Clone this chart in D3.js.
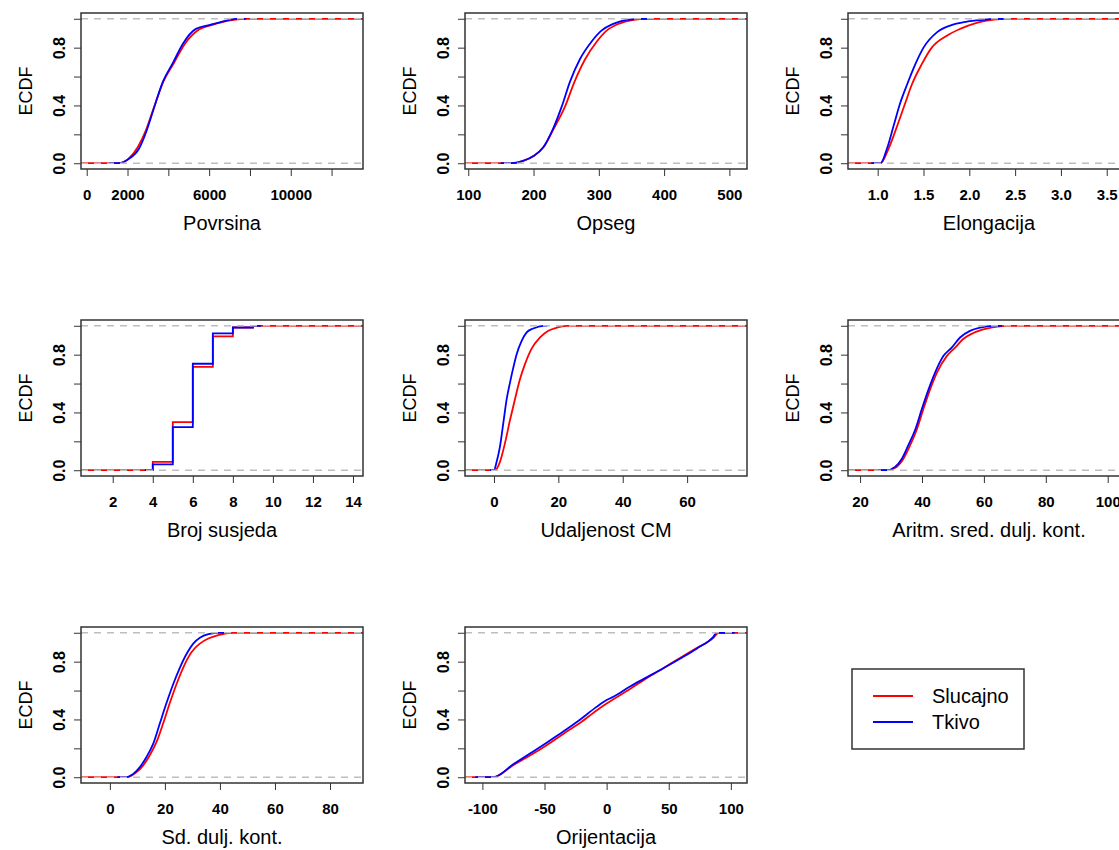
<!DOCTYPE html>
<html>
<head>
<meta charset="utf-8">
<script src="https://cdn.jsdelivr.net/npm/d3@7"></script>
<style>
  body { margin: 0; background: #fff; }
  svg { display: block; font-family: "Liberation Sans", Arial, sans-serif; }
</style>
</head>
<body>
<svg width="1119" height="850"></svg>
<script>
// ECDF readings [x, F] for each variable: Slucajno (red) and Tkivo (blue)
var povrsinaSlucajno = [[1600,0],[2040,0.03],[2500,0.11],[2900,0.227],[3250,0.368],[3760,0.567],[4280,0.696],[4800,0.824],[5500,0.925],[6150,0.958],[6950,0.988],[7800,1]];
var povrsinaTkivo    = [[1550,0],[2040,0.028],[2560,0.10],[2940,0.227],[3265,0.368],[3740,0.567],[4230,0.696],[4700,0.824],[5350,0.93],[6044,0.958],[6860,0.988],[7350,1]];

var opsegSlucajno = [[168,0],[184,0.016],[200,0.05],[215,0.11],[231,0.24],[248,0.39],[263,0.567],[279,0.72],[297,0.843],[312,0.918],[330,0.965],[353,0.993],[373,1]];
var opsegTkivo    = [[166,0],[184,0.016],[200,0.05],[215,0.11],[230,0.24],[243,0.39],[256,0.567],[271,0.72],[289,0.843],[304,0.918],[322,0.965],[343,0.993],[368,1]];

var elongSlucajno = [[1.03,0],[1.117,0.098],[1.208,0.25],[1.30,0.415],[1.372,0.543],[1.48,0.684],[1.59,0.80],[1.755,0.883],[1.90,0.93],[2.08,0.972],[2.27,0.995],[2.41,1]];
var elongTkivo    = [[1.03,0],[1.10,0.098],[1.17,0.25],[1.245,0.415],[1.32,0.543],[1.41,0.684],[1.50,0.80],[1.646,0.906],[1.79,0.953],[1.974,0.981],[2.19,0.995],[2.27,1]];

var susjediSlucajno = [[4,0.058],[5,0.333],[6,0.716],[7,0.926],[8,0.988],[9,1]];
var susjediTkivo    = [[4,0.04],[5,0.298],[6,0.737],[7,0.947],[8,0.988],[9,1]];

var udaljSlucajno = [[0.3,0],[1.86,0.058],[3.4,0.186],[5.0,0.349],[6.5,0.49],[8.07,0.63],[9.6,0.733],[11.7,0.842],[14.3,0.919],[16.9,0.965],[19.4,0.986],[22.5,1]];
var udaljTkivo    = [[0,0],[0.83,0.058],[1.86,0.163],[2.9,0.326],[3.93,0.49],[4.96,0.605],[6.0,0.71],[7.0,0.80],[8.6,0.895],[10.1,0.953],[12.2,0.981],[15.3,1]];

var aritmSlucajno = [[28.8,0],[31.8,0.023],[34.0,0.08],[36.2,0.174],[38.3,0.28],[40.4,0.42],[42.6,0.558],[44.8,0.674],[48.0,0.79],[50.7,0.849],[53.4,0.91],[56.6,0.95],[60.9,0.98],[67.4,1]];
var aritmTkivo    = [[28.6,0],[31.3,0.023],[33.5,0.08],[35.6,0.174],[37.8,0.28],[39.9,0.42],[42.1,0.558],[44.2,0.674],[46.9,0.79],[49.6,0.849],[52.3,0.919],[55.5,0.965],[58.8,0.988],[63.1,1]];

var sdSlucajno = [[6,0],[9.7,0.035],[12.1,0.082],[14.5,0.152],[17.0,0.246],[19.4,0.375],[21.8,0.515],[24.2,0.644],[26.7,0.761],[29.7,0.867],[32.7,0.925],[35.8,0.96],[39.4,0.984],[44.8,1]];
var sdTkivo    = [[5.5,0],[8.5,0.023],[10.9,0.07],[13.3,0.14],[15.8,0.234],[18.2,0.375],[20.6,0.515],[23.0,0.644],[25.5,0.761],[27.9,0.855],[30.3,0.925],[32.7,0.965],[35.8,0.99],[40,1]];

var orijSlucajno = [[-91.3,0],[-75,0.085],[-61.7,0.15],[-48.3,0.222],[-34.9,0.30],[-21.5,0.375],[-8.1,0.462],[0,0.51],[18.8,0.61],[32.2,0.685],[45.6,0.755],[59,0.826],[72.5,0.895],[85.9,0.965],[90,1]];
var orijTkivo    = [[-91.3,0],[-75.2,0.089],[-61.7,0.164],[-48.3,0.239],[-34.9,0.316],[-21.5,0.398],[-8.1,0.487],[0,0.534],[5.4,0.557],[18.8,0.628],[32.2,0.691],[45.6,0.754],[59,0.82],[72.5,0.89],[85.9,0.972],[88.6,1]];

// axis limits, ticks and labelled ticks
var titles = ["Povrsina","Opseg","Elongacija","Broj susjeda","Udaljenost CM","Aritm. sred. dulj. kont.","Sd. dulj. kont.","Orijentacija"];
var xLimits = [[-280,13540],[95,527],[0.676,3.754],[0.415,14.5],[-9,78.6],[16.1,107.2],[-10.5,92],[-114,113]];
var xTicks = [
  [0,2000,4000,6000,8000,10000,12000],
  [100,200,300,400,500],
  [1,1.5,2,2.5,3,3.5],
  [2,4,6,8,10,12,14],
  [0,20,40,60],
  [20,40,60,80,100],
  [0,20,40,60,80],
  [-100,-50,0,50,100]
];
var xLabelled = [[0,2000,6000,10000],null,null,null,null,null,null,null];
var yTicks = [0,0.2,0.4,0.6,0.8,1];
var yLabelled = [0,0.4,0.8];
var seriesNames = ["Slucajno","Tkivo"];
var seriesColors = ["#ff0000","#0000ff"];
var slucajno = [povrsinaSlucajno,opsegSlucajno,elongSlucajno,susjediSlucajno,udaljSlucajno,aritmSlucajno,sdSlucajno,orijSlucajno];
var tkivo = [povrsinaTkivo,opsegTkivo,elongTkivo,susjediTkivo,udaljTkivo,aritmTkivo,sdTkivo,orijTkivo];

var svg = d3.select("svg"),
	colLeft = [81,465,848],
	rowTop = [13,320,627],
	boxW = 282,
	boxH = 156;

svg.append("rect").attr("width",1119).attr("height",850).attr("fill","#fff");

titles.forEach(function(title, i){
	var g = svg.append("g")
		.attr("transform","translate("+colLeft[i%3]+","+rowTop[Math.floor(i/3)]+")");

	var x = d3.scaleLinear().domain(xLimits[i]).range([0,boxW]),
		y = d3.scaleLinear().domain([-0.04,1.04]).range([boxH,0]);

	g.append("clipPath").attr("id","clip"+i)
		.append("rect").attr("width",boxW).attr("height",boxH);

	var plot = g.append("g").attr("clip-path","url(#clip"+i+")");

	var stepped = (i == 3);
	var line = d3.line()
		.x(function(d){ return x(d[0])})
		.y(function(d){ return y(d[1])})
		.curve(stepped ? d3.curveStepAfter : d3.curveMonotoneX);

	// first series spans the whole plot, the added one only its own range +8%
	[slucajno[i], tkivo[i]].forEach(function(pts, k){
		var lo = pts[0][0], hi = pts[pts.length-1][0], dr = 0.08*(hi-lo);
		var left = k == 0 ? xLimits[i][0] - 1 : lo - dr,
			right = k == 0 ? xLimits[i][1] + 1 : hi + dr;
		var full = [[left,0]].concat(stepped ? [] : [[lo - 1e-9*(hi-lo),0]]).concat(pts).concat([[right,1]]);
		if(!stepped) full.splice(1,1);
		plot.append("path")
			.attr("d", line(full))
			.attr("fill","none")
			.attr("stroke", seriesColors[k])
			.attr("stroke-width",1.8);
	});

	// grey reference lines at 0 and 1
	plot.selectAll(".ref")
		.data([0,1])
		.enter().append("line")
		.attr("x1",0).attr("x2",boxW)
		.attr("y1",function(d){ return y(d)}).attr("y2",function(d){ return y(d)})
		.attr("stroke","#bebebe").attr("stroke-width",1.5)
		.attr("stroke-dasharray","7,6");

	var lab = xLabelled[i];
	var xa = g.append("g")
		.attr("transform","translate(0,"+boxH+")")
		.call(d3.axisBottom(x).tickValues(xTicks[i]).tickSize(7).tickPadding(13)
			.tickFormat(function(d){
				if(lab && lab.indexOf(d) < 0) return "";
				return i == 2 ? d.toFixed(1) : String(d);
			}));
	xa.select(".domain").remove();
	xa.attr("font-family",null).attr("font-size",15).attr("font-weight","bold");
	xa.selectAll(".tick line").attr("stroke","#333");
	xa.selectAll(".tick text").attr("fill","#000");

	var ya = g.append("g")
		.call(d3.axisLeft(y).tickValues(yTicks).tickSize(7)
			.tickFormat(function(d){ return yLabelled.indexOf(d) < 0 ? "" : d.toFixed(1)}));
	ya.select(".domain").remove();
	ya.attr("font-family",null).attr("font-size",16).attr("font-weight","bold");
	ya.selectAll(".tick line").attr("stroke","#333");
	ya.selectAll(".tick text")
		.attr("x",null).attr("dy",null).attr("fill","#000")
		.attr("text-anchor","middle")
		.attr("transform","translate(-16,0) rotate(-90)");

	g.append("rect")
		.attr("width",boxW).attr("height",boxH)
		.attr("fill","none").attr("stroke","#333").attr("stroke-width",1.5);

	g.append("text")
		.attr("transform","translate(-49,"+(boxH/2)+") rotate(-90)")
		.attr("text-anchor","middle")
		.style("font-size","18px")
		.text("ECDF");

	g.append("text")
		.attr("x",boxW/2)
		.attr("y",boxH+61)
		.attr("text-anchor","middle")
		.style("font-size","20px")
		.text(title);
});

// legend
var legend = svg.append("g").attr("transform","translate(852,669)");
legend.append("rect")
	.attr("width",172).attr("height",80)
	.attr("fill","#fff").attr("stroke","#333").attr("stroke-width",1.5);
seriesNames.forEach(function(name, k){
	var ly = 27 + k*26;
	legend.append("line")
		.attr("x1",21).attr("x2",61).attr("y1",ly).attr("y2",ly)
		.attr("stroke",seriesColors[k]).attr("stroke-width",2);
	legend.append("text")
		.attr("x",80).attr("y",ly+7)
		.style("font-size","20px")
		.text(name);
});
</script>
</body>
</html>
